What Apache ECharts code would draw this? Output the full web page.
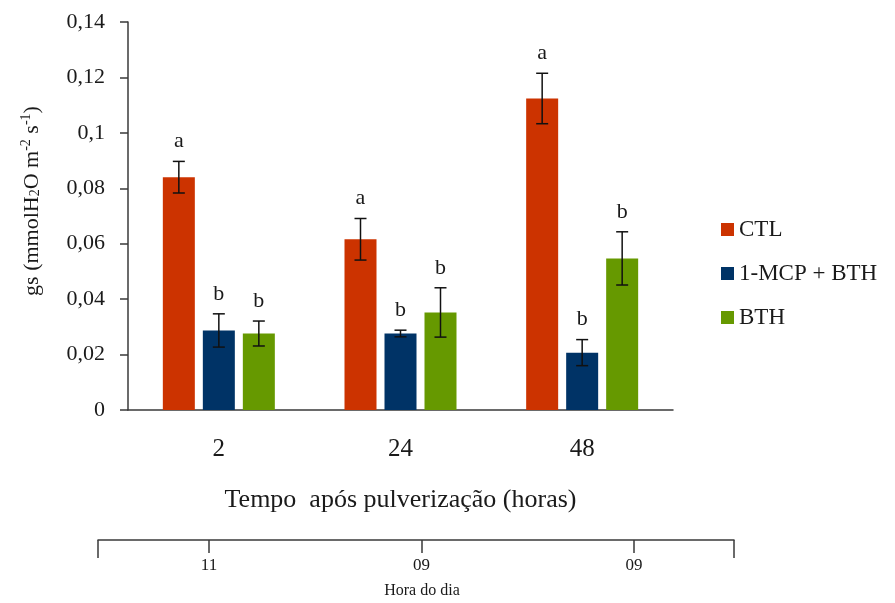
<!DOCTYPE html>
<html>
<head>
<meta charset="utf-8">
<script src="https://cdn.jsdelivr.net/npm/echarts@6/dist/echarts.min.js"></script>
<style>html,body{margin:0;padding:0;background:#fff;}#c{width:895px;height:603px;}</style>
</head>
<body>
<div id="c"></div>
<script>
// ---- data ----
const categories = ['2', '24', '48'];
const seriesNames = ['CTL', '1-MCP + BTH', 'BTH'];
const ctlValues = [0.084, 0.0616, 0.1124];
const ctlErrors = [0.0057, 0.0075, 0.0091];
const ctlLetters = ['a', 'a', 'a'];
const mcpValues = [0.0287, 0.0276, 0.0207];
const mcpErrors = [0.0060, 0.0012, 0.0047];
const mcpLetters = ['b', 'b', 'b'];
const bthValues = [0.0276, 0.0352, 0.0547];
const bthErrors = [0.0045, 0.0089, 0.0096];
const bthLetters = ['b', 'b', 'b'];
const yTicks = [0, 0.02, 0.04, 0.06, 0.08, 0.1, 0.12, 0.14];
const hourTickPos = [0, 1, 2];
const hourLabels = ['11', '09', '09'];

// ---- style ----
const FONT = "'Liberation Serif', 'Times New Roman', serif";
const COLORS = ['#CC3300', '#003366', '#669900'];
const AXIS = '#3a3a3a';
const TXT = '#1a1a1a';
const BAR_W = 32;
const BAR_GAP = 8;
const HOUR_MIN = -0.522, HOUR_MAX = 2.47;

const groups = [
  {name: seriesNames[0], v: ctlValues, e: ctlErrors, l: ctlLetters},
  {name: seriesNames[1], v: mcpValues, e: mcpErrors, l: mcpLetters},
  {name: seriesNames[2], v: bthValues, e: bthErrors, l: bthLetters}
];

const barSeries = groups.map((g, k) => ({
  name: g.name,
  type: 'bar',
  xAxisIndex: 0, yAxisIndex: 0,
  barWidth: BAR_W,
  barGap: (BAR_GAP / BAR_W * 100) + '%',
  itemStyle: {color: COLORS[k]},
  data: g.v
}));

const errSeries = groups.map((g, k) => ({
  name: 'err' + k,
  type: 'custom',
  xAxisIndex: 0, yAxisIndex: 0,
  z: 5,
  data: g.v.map((v, i) => [i, v - g.e[i], v + g.e[i], g.l[i]]),
  renderItem: function (params, api) {
    const off = (k - 1) * (BAR_W + BAR_GAP);
    const lo = api.coord([api.value(0), api.value(1)]);
    const hi = api.coord([api.value(0), api.value(2)]);
    const x = lo[0] + off;
    const cap = 6;
    const ls = {stroke: '#111', lineWidth: 1.5};
    return {
      type: 'group',
      children: [
        {type: 'line', shape: {x1: x, y1: lo[1], x2: x, y2: hi[1]}, style: ls},
        {type: 'line', shape: {x1: x - cap, y1: lo[1], x2: x + cap, y2: lo[1]}, style: ls},
        {type: 'line', shape: {x1: x - cap, y1: hi[1], x2: x + cap, y2: hi[1]}, style: ls},
        {type: 'text', style: {text: g.l[params.dataIndex], x: x, y: hi[1] - 9, align: 'center', verticalAlign: 'bottom',
          font: '22px ' + FONT, fill: TXT}}
      ]
    };
  }
}));

const chart = echarts.init(document.getElementById('c'), null, {renderer: 'canvas'});
chart.setOption({
  animation: false,
  backgroundColor: '#ffffff',
  legend: {
    orient: 'vertical',
    left: 716, top: 213,
    itemWidth: 13, itemHeight: 13, itemGap: 21,
    icon: 'rect',
    data: seriesNames,
    textStyle: {fontFamily: FONT, fontSize: 23, color: TXT}
  },
  grid: [
    {left: 128, right: 222, top: 22, bottom: 193},
    {left: 98, right: 161, top: 530, height: 10}
  ],
  xAxis: [
    {
      gridIndex: 0, type: 'category', data: categories, position: 'bottom',
      axisLine: {lineStyle: {color: AXIS, width: 1.5}},
      axisTick: {show: false},
      axisLabel: {fontFamily: FONT, fontSize: 25, color: TXT, margin: 27},
      name: 'Tempo  após pulverização (horas)',
      nameLocation: 'middle', nameGap: 77,
      nameTextStyle: {fontFamily: FONT, fontSize: 26, color: TXT}
    },
    {
      gridIndex: 1, type: 'value', min: HOUR_MIN, max: HOUR_MAX, position: 'bottom',
      splitLine: {show: false},
      axisLine: {show: true, lineStyle: {color: AXIS, width: 1.5}},
      axisTick: {show: true, length: 13, customValues: hourTickPos, lineStyle: {color: AXIS, width: 1.5}},
      axisLabel: {customValues: hourTickPos, formatter: v => hourLabels[Math.round(v)],
        fontFamily: FONT, fontSize: 17, color: TXT, margin: 17},
      name: 'Hora do dia', nameLocation: 'middle', nameGap: 43,
      nameTextStyle: {fontFamily: FONT, fontSize: 16, color: TXT, padding: [0, 0, 0, 12]}
    },
    {
      gridIndex: 1, type: 'value', min: HOUR_MIN, max: HOUR_MAX, position: 'bottom', offset: 0,
      splitLine: {show: false},
      axisLine: {show: false, onZero: false},
      axisTick: {show: true, length: 18, customValues: [HOUR_MIN, HOUR_MAX], lineStyle: {color: AXIS, width: 1.5}},
      axisLabel: {show: false}
    }
  ],
  yAxis: [
    {
      gridIndex: 0, type: 'value', min: 0, max: 0.14, interval: 0.02,
      splitLine: {show: false},
      axisLine: {show: true, lineStyle: {color: AXIS, width: 1.5}},
      axisTick: {show: true, length: 8, lineStyle: {color: AXIS, width: 1.5}},
      axisLabel: {
        fontFamily: FONT, fontSize: 22, color: TXT, margin: 23,
        formatter: v => String(+v.toFixed(2)).replace('.', ',')
      },
      name: '{n|gs (mmolH}{s|2}{n|O m}{p|-2}{n| s}{p|-1}{n|)}',
      nameLocation: 'middle', nameGap: 80, nameRotate: 90,
      nameTextStyle: {
        padding: [0, 0, 0, 30],
        rich: {
          n: {fontFamily: FONT, fontSize: 22, color: TXT, lineHeight: 26, padding: [0, 0, 5, 0]},
          s: {fontFamily: FONT, fontSize: 14, color: TXT, lineHeight: 14, padding: [0, 0, 0, 0]},
          p: {fontFamily: FONT, fontSize: 14, color: TXT, lineHeight: 14, padding: [0, 0, 17, 0]}
        }
      }
    },
    {gridIndex: 1, type: 'value', show: false}
  ],
  series: barSeries.concat(errSeries)
});
</script>
</body>
</html>
